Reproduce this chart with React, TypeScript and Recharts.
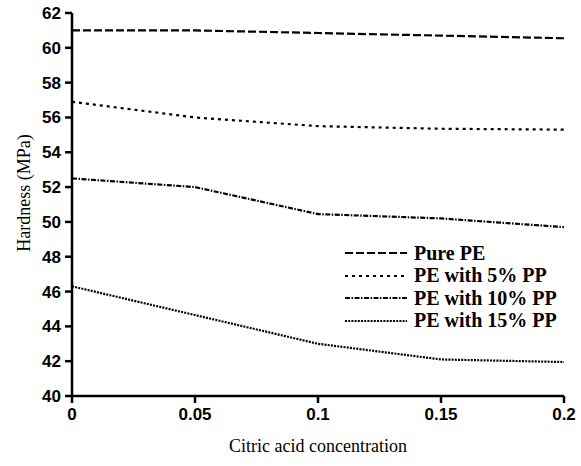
import React from 'react';
import { LineChart, Line, XAxis, YAxis, Legend } from 'recharts';

const concentrations = [0, 0.05, 0.1, 0.15, 0.2];
const purePE = [61.0, 61.0, 60.85, 60.7, 60.55];
const pe5PP = [56.9, 56.0, 55.5, 55.35, 55.3];
const pe10PP = [52.5, 52.0, 50.45, 50.2, 49.7];
const pe15PP = [46.3, 44.65, 43.0, 42.1, 41.95];

const xTicks = [0, 0.05, 0.1, 0.15, 0.2];
const yTicks = [40, 42, 44, 46, 48, 50, 52, 54, 56, 58, 60, 62];

const SERIES = [
  { key: 'pure', name: 'Pure PE', dash: '8 3' },
  { key: 'pp5', name: 'PE with 5% PP', dash: '3 4' },
  { key: 'pp10', name: 'PE with 10% PP', dash: '5 1.5 1.5 1.5' },
  { key: 'pp15', name: 'PE with 15% PP', dash: '2 1.2' },
];

const data = concentrations.map((c, i) => ({
  c,
  pure: purePE[i],
  pp5: pe5PP[i],
  pp10: pe10PP[i],
  pp15: pe15PP[i],
}));

const SERIF = '"Liberation Serif", "Times New Roman", serif';
const SANS = '"Liberation Sans", Arial, sans-serif';

const renderLegend = () => (
  <div style={{ fontFamily: SERIF, fontSize: 20, fontWeight: 'bold', color: '#000', textAlign: 'left' }}>
    {SERIES.map(s => (
      <div key={s.key} style={{ display: 'flex', alignItems: 'center', height: 22.5 }}>
        <svg width={62} height={6} style={{ marginRight: 7 }}>
          <line x1={0} y1={3} x2={62} y2={3} stroke="#000" strokeWidth={2.2} strokeDasharray={s.dash} />
        </svg>
        <span>{s.name}</span>
      </div>
    ))}
  </div>
);

const XTick = (props: any) => {
  const { x, y, payload } = props;
  return (
    <text x={x} y={y + 15} textAnchor="middle" fontFamily={SANS} fontSize={17} fontWeight="bold" fill="#000">
      {payload.value}
    </text>
  );
};

const YTick = (props: any) => {
  const { x, y, payload } = props;
  return (
    <text x={x - 1} y={y + 6} textAnchor="end" fontFamily={SANS} fontSize={17} fontWeight="bold" fill="#000">
      {payload.value}
    </text>
  );
};

const App: React.FC = () => {
  return (
    <div style={{ position: 'absolute', left: 0, top: 0, background: '#fff' }}>
      <LineChart width={581} height={466} data={data} margin={{ top: 13, right: 17, bottom: 0, left: 0 }}>
        <XAxis
          dataKey="c"
          type="number"
          domain={[0, 0.2]}
          ticks={xTicks}
          interval={0}
          height={70}
          tickSize={7}
          tickMargin={2}
          stroke="#000"
          strokeWidth={2.5}
          tick={<XTick />}
          label={() => (
            <text x={318} y={452} textAnchor="middle" fontFamily={SERIF} fontSize={18} fill="#000">
              Citric acid concentration
            </text>
          )}
        />
        <YAxis
          type="number"
          domain={[40, 62]}
          ticks={yTicks}
          interval={0}
          width={72}
          tickSize={7}
          tickMargin={3}
          stroke="#000"
          strokeWidth={2.5}
          tick={<YTick />}
          label={() => (
            <text
              x={30}
              y={193}
              transform="rotate(-90 30 193)"
              textAnchor="middle"
              fontFamily={SERIF}
              fontSize={18}
              fill="#000"
            >
              Hardness (MPa)
            </text>
          )}
        />
        <Legend
          content={renderLegend}
          layout="vertical"
          verticalAlign="middle"
          align="center"
          wrapperStyle={{ left: 345, top: 242, width: 236 }}
        />
        {SERIES.map(s => (
          <Line
            key={s.key}
            dataKey={s.key}
            name={s.name}
            type="linear"
            stroke="#000"
            strokeWidth={2.2}
            strokeDasharray={s.dash}
            dot={false}
            activeDot={false}
            isAnimationActive={false}
          />
        ))}
      </LineChart>
    </div>
  );
};

export default App;
